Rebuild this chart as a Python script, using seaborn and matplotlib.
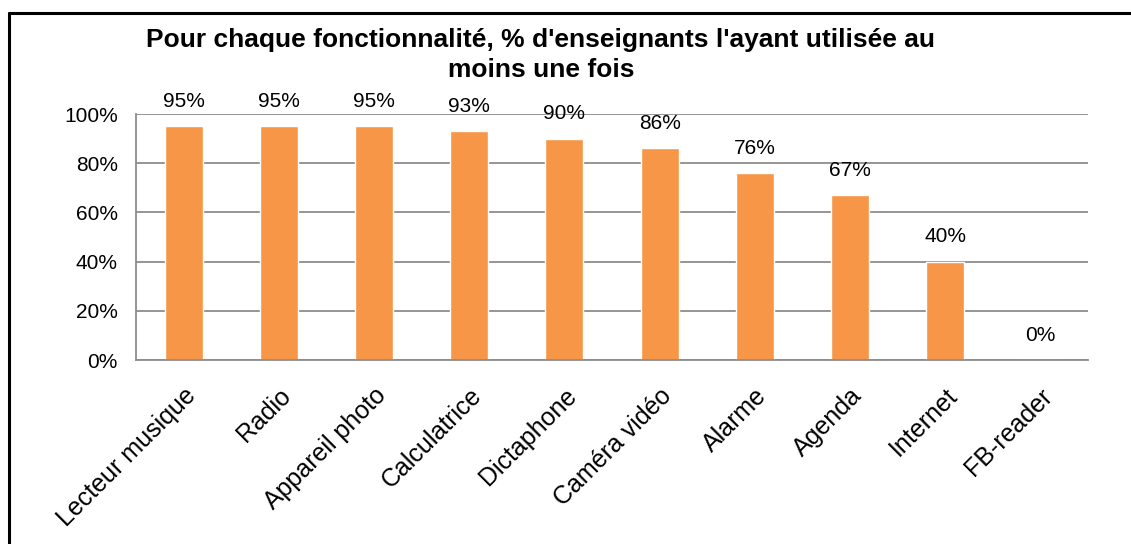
import matplotlib
matplotlib.use("Agg")
import matplotlib.pyplot as plt
import seaborn as sns
import pandas as pd
from matplotlib.lines import Line2D

categories = ["Lecteur musique", "Radio", "Appareil photo", "Calculatrice", "Dictaphone",
              "Caméra vidéo", "Alarme", "Agenda", "Internet", "FB-reader"]
values = [95, 95, 95, 93, 90, 86, 76, 67, 40, 0]
yticks = [0, 20, 40, 60, 80, 100]
title = "Pour chaque fonctionnalité, % d'enseignants l'ayant utilisée au\nmoins une fois"

sns.set_theme(style="white")
plt.rcParams['font.family'] = ['Liberation Sans', 'DejaVu Sans']
plt.rcParams['text.color'] = 'black'

df = pd.DataFrame({"cat": categories, "val": values})

fig = plt.figure(figsize=(11.31, 5.44), dpi=100)
ax = fig.add_axes([136/1131, 1-360/544, (1088-136)/1131, (360-114)/544])

sns.barplot(data=df, x="cat", y="val", color="#F79646", width=0.4, saturation=1, ax=ax)

ax.set_ylim(0, 100)
ax.set_xlim(-0.5, len(categories)-0.5)
ax.set_yticks(yticks)
ax.set_yticklabels([f"{v}%" for v in yticks])
ax.yaxis.grid(True, color="#8c8c8c", linewidth=1.3)
ax.set_axisbelow(True)
ax.set_xlabel("")
ax.set_ylabel("")
for s in ["top", "right"]:
    ax.spines[s].set_visible(False)
for s in ["left", "bottom"]:
    ax.spines[s].set_color("#8c8c8c")
    ax.spines[s].set_linewidth(1.3)
ax.tick_params(axis="y", length=0, pad=13, labelsize=15, labelcolor="black")
ax.tick_params(axis="x", length=0, pad=17, labelsize=18, labelcolor="black")
plt.setp(ax.get_xticklabels(), rotation=45, ha="right", rotation_mode="anchor")

for c in ax.containers:
    ax.bar_label(c, labels=[f"{v}%" for v in values], padding=11, fontsize=15, color="black")

fig.text(541/1131, 1-28/544, title, ha="center", va="top", fontsize=19, fontweight="bold",
         linespacing=1.3, color="black")

# frame lines (top and left)
fig.add_artist(Line2D([9/1131, 1.0], [1-13/544, 1-13/544], transform=fig.transFigure,
                      color="black", linewidth=2.2))
fig.add_artist(Line2D([9/1131, 9/1131], [0, 1-13/544], transform=fig.transFigure,
                      color="black", linewidth=2.2))

fig.savefig("out.png", dpi=100, facecolor="white")
